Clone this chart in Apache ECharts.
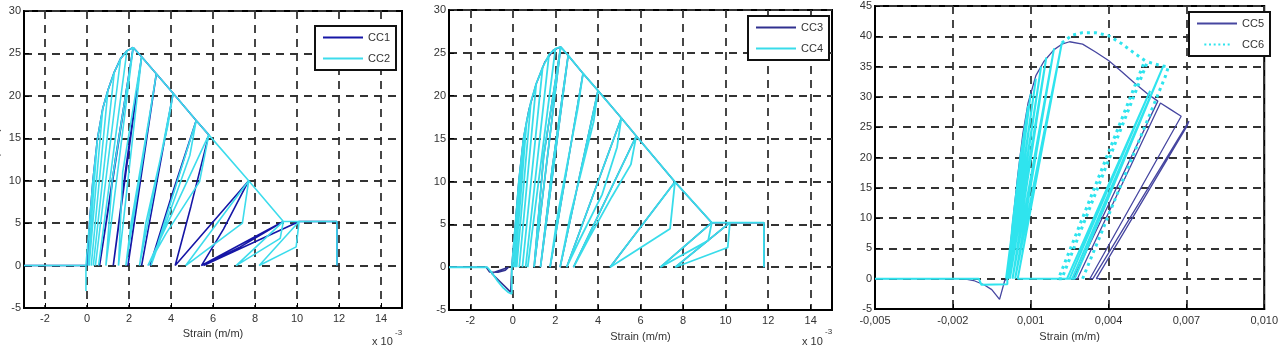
<!DOCTYPE html>
<html>
<head>
<meta charset="utf-8">
<script src="https://cdn.jsdelivr.net/npm/echarts@6.0.0/dist/echarts.min.js"></script>
<style>
  html, body { margin: 0; padding: 0; background: #fff; }
  #chart { width: 1281px; height: 347px; }
</style>
</head>
<body>
<div id="chart"></div>
<script>
// tick labels
const xTicksA = [-2, 0, 2, 4, 6, 8, 10, 12, 14];           // strain x 10^-3 (panels 1 and 2)
const xTicksB = [-0.005, -0.002, 0.001, 0.004, 0.007, 0.010]; // strain (panel 3)

// panel 1 (strain in 10^-3, stress in MPa)
const cc1 = [
  [-3, 0], [0, 0], [0.12, 5], [0.28, 10], [0.5, 15], [0.75, 18.5], [1.0, 20.7], [1.3, 22.8], [1.6, 24.4], [1.9, 25.3], [2.2, 25.7],
  [1.35, 12.5], [0.6, 0], [2.2, 25.7], [2.6, 24.6],
  [1.85, 11.5], [1.25, 0], [2.6, 24.6], [3.3, 22.6],
  [2.55, 10.5], [1.95, 0], [3.3, 22.6], [4.1, 20.3],
  [3.3, 9.5], [2.6, 0], [4.1, 20.3], [5.2, 17.1],
  [4.0, 8.0], [3.0, 0], [5.2, 17.1], [5.8, 15.4],
  [4.95, 7.0], [4.2, 0], [7.7, 10],
  [6.5, 4.3], [5.45, 0], [9.35, 5.2],
  [7.3, 2.2], [5.55, 0], [10.1, 5.2], [11.9, 5.2], [11.9, 0]
];
const cc2 = [
  [-3, 0], [-0.05, 0], [-0.05, -3], [-0.05, 0], [0, 0], [0.12, 5], [0.28, 10], [0.5, 15],
  [0.05, 0], [0.5, 15], [0.75, 18.5], [0.1, 0], [0.75, 18.5], [1.0, 20.7], [0.2, 0], [1.0, 20.7], [1.3, 22.8],
  [0.3, 0], [1.3, 22.8], [1.6, 24.4], [0.4, 0], [1.6, 24.4], [1.9, 25.3], [0.55, 0], [1.9, 25.3], [2.2, 25.7],
  [1.2, 10], [0.9, 0], [2.2, 25.7], [2.6, 24.6],
  [1.7, 11], [1.5, 0], [2.6, 24.6], [3.3, 22.6],
  [3.0, 18], [2.1, 5], [1.85, 0], [3.3, 22.6], [4.1, 20.3],
  [3.85, 16.5], [2.8, 5], [2.5, 0], [4.1, 20.3], [5.2, 17.1],
  [4.9, 13], [3.9, 6], [3.05, 0], [5.2, 17.1], [5.8, 15.4],
  [5.36, 9.9], [3.77, 3.8], [2.9, 0], [5.8, 15.4], [7.7, 10],
  [7.4, 5.0], [4.7, 0], [7.7, 10], [9.35, 5.2],
  [9.2, 3.2], [7.1, 0], [9.35, 5.2], [10.1, 5.2],
  [9.96, 2.2], [8.2, 0], [10.1, 5.2], [11.9, 5.2], [11.9, 0]
];

// panel 2
const cc3 = [
  [-3, 0], [-1.25, 0], [-1.1, -0.55], [-0.7, -0.6], [-0.35, -0.35], [-0.2, 0], [-1.0, -0.7], [-0.1, -2.9], [-0.05, -3.0], [-0.05, 0], [0, 0],
  [0.12, 5], [0.28, 10], [0.5, 15], [0.75, 18.3], [1.1, 21.4], [1.5, 23.9], [1.9, 25.3], [2.25, 25.7],
  [1.45, 13], [1.0, 0], [2.25, 25.7], [2.6, 24.7], [1.85, 11.5], [1.3, 0], [2.6, 24.7], [3.3, 22.6],
  [1.75, 0], [3.3, 22.6], [4.0, 20.6], [2.22, 0], [4.0, 20.6], [5.1, 17.4], [2.53, 0], [5.1, 17.4], [5.8, 15.3],
  [2.85, 0], [5.8, 15.3], [7.62, 9.95], [4.57, 0], [7.62, 9.95], [9.35, 5.2], [6.93, 0], [9.35, 5.2], [10.2, 5.2],
  [7.63, 0], [10.2, 5.2], [11.8, 5.2], [11.8, 0]
];
const cc4 = [
  [-3, 0], [-1.2, 0], [-1.0, -0.6], [-0.75, -1.5], [-0.45, -2.4], [-0.2, -2.95], [-0.05, -3.1], [-0.05, 0], [0, 0],
  [0.12, 5], [0.28, 10], [0.5, 15], [0.04, 0], [0.5, 15], [0.65, 17], [0.1, 0], [0.65, 17], [0.85, 19.3],
  [0.18, 0], [0.85, 19.3], [1.1, 21.4], [0.3, 0], [1.1, 21.4], [1.4, 23.3], [0.45, 0], [1.4, 23.3], [1.7, 24.8],
  [0.6, 0], [1.7, 24.8], [2.0, 25.5], [0.7, 0], [2.0, 25.5], [2.25, 25.7],
  [1.45, 13], [1.0, 0], [2.25, 25.7], [2.6, 24.7],
  [1.85, 11.5], [1.3, 0], [2.6, 24.7], [3.3, 22.6],
  [3.05, 18.5], [2.1, 6], [1.75, 0], [3.3, 22.6], [4.0, 20.6],
  [3.8, 17], [2.7, 6], [2.22, 0], [4.0, 20.6], [5.1, 17.4],
  [4.9, 14], [4.2, 8.5], [3.1, 3], [2.53, 0], [5.1, 17.4], [5.8, 15.3],
  [5.55, 12], [4.65, 8.2], [3.6, 3.5], [2.85, 0], [5.8, 15.3], [7.62, 9.95],
  [7.39, 4.5], [4.57, 0], [7.62, 9.95], [9.35, 5.2],
  [9.18, 3.1], [6.93, 0], [9.35, 5.2], [10.2, 5.2],
  [10.1, 2.3], [7.63, 0], [10.2, 5.2], [11.8, 5.2], [11.8, 0]
];

// panel 3 (strain in m/m)
const cc5 = [
  [-0.005, 0], [-0.0016, 0], [-0.0012, -0.3], [-0.0008, -1.0], [-0.0005, -1.8], [-0.0002, -3.4], [0.0, -0.3], [0.0001, 0],
  [0.0003, 9], [0.0005, 17], [0.0007, 24], [0.0009, 29], [0.0012, 33.5], [0.0015, 35.8], [0.0019, 37.8], [0.0022, 38.7],
  [0.0025, 39.1], [0.0030, 38.7], [0.0035, 37.4], [0.0040, 36.0], [0.0045, 34.2], [0.0050, 32.3], [0.0055, 30.5], [0.0059, 29.3],
  [0.00264, 0], [0.0028, 0], [0.0060, 29.0], [0.0064, 27.9], [0.0068, 26.8],
  [0.00328, 0], [0.0034, 0], [0.0071, 26.0], [0.0070, 25.0], [0.00353, 0], [0.0037, 0]
];
const cc6Cycles = [
  [-0.005, 0], [-0.0010, 0], [-0.0009, -1.0], [0.0001, -0.9], [0.0001, 0],
  [0.0003, 9], [0.0006, 20], [0.0009, 28.5],
  [0.00005, 0], [0.0010, 30.5], [0.0001, 0], [0.0012, 33], [0.00015, 0], [0.0014, 35],
  [0.0002, 0], [0.0016, 36.5], [0.0003, 0], [0.0019, 38], [0.0004, 0], [0.0022, 38.9],
  [0.0005, 0], [0.0027, 0], [0.0061, 35.0], [0.0026, 0], [0.0025, 0], [0.0056, 31], [0.0024, 0]
];
const cc6 = [
  [0.0022, 38.9], [0.0026, 40.2], [0.0030, 40.6], [0.0035, 40.6], [0.0040, 40.1], [0.0045, 38.8], [0.0050, 37.2], [0.0054, 36.0],
  [0.00207, 0], [0.0022, 0], [0.0055, 35.8], [0.0059, 35.3], [0.0063, 34.9], [0.0062, 33.5], [0.0030, 0]
];

const chart = echarts.init(document.getElementById('chart'));

const FONT = 'Liberation Sans';
const gridLine = { show: true, lineStyle: { color: '#333', type: [8, 6], width: 1.8 } };
const tick = { show: true, inside: true, length: 5, lineStyle: { color: '#000', width: 1 } };
const label = { color: '#333', fontSize: 11, fontFamily: FONT };
const border = { show: true, onZero: false, lineStyle: { color: '#000', width: 2 } };

const xAxis = (gridIndex, min, max, ticks, extra) => Object.assign({
  gridIndex, type: 'value', min, max,
  axisLine: border,
  axisTick: Object.assign({ customValues: ticks }, tick),
  axisLabel: Object.assign({ customValues: ticks, margin: 5 }, label),
  splitLine: gridLine,
  name: 'Strain (m/m)', nameLocation: 'middle',
  nameTextStyle: { color: '#333', fontSize: 11, fontFamily: FONT }
}, extra);

const yAxis = (gridIndex, min, max) => ({
  gridIndex, type: 'value', min, max, interval: 5,
  axisLine: border,
  axisTick: tick,
  axisLabel: Object.assign({ margin: 3 }, label),
  splitLine: gridLine
});

const line = (name, data, idx, color, width, type, z) => ({
  name, type: 'line', data, xAxisIndex: idx, yAxisIndex: idx,
  symbol: 'none', showSymbol: false, clip: true, z: z || 2,
  lineStyle: { color, width, type: type || 'solid' },
  itemStyle: { color }
});

const solidIcon = 'rect';
const dotIcon = 'path://M0,0h3v3h-3zM7,0h3v3h-3zM14,0h3v3h-3zM21,0h3v3h-3zM28,0h3v3h-3zM35,0h3v3h-3z';

const legend = (left, top, data) => ({
  left, top, data, orient: 'vertical',
  itemWidth: 40, itemHeight: 2, itemGap: 10,
  padding: [6, 6, 6, 8],
  backgroundColor: '#fff', borderColor: '#111', borderWidth: 2, borderRadius: 0,
  textStyle: { color: '#333', fontSize: 11, fontFamily: FONT }
});

chart.setOption({
  animation: false,
  backgroundColor: '#fff',
  grid: [
    { left: 24, top: 11, width: 378, height: 297, show: true, borderColor: '#000', borderWidth: 2 },
    { left: 449, top: 10, width: 383, height: 301, show: true, borderColor: '#000', borderWidth: 2 },
    { left: 875, top: 6, width: 393, height: 306, show: true, borderColor: '#000', borderWidth: 2 }
  ],
  xAxis: [
    xAxis(0, -3, 15, xTicksA, { nameGap: 19 }),
    xAxis(1, -3, 15, xTicksA, { nameGap: 20 }),
    xAxis(2, -0.005, 0.010, xTicksB, {
      nameGap: 22,
      axisLabel: Object.assign({ customValues: xTicksB, margin: 6,
        formatter: v => v.toFixed(3).replace('.', ',') }, label)
    })
  ],
  yAxis: [yAxis(0, -5, 30), yAxis(1, -5, 30), yAxis(2, -5, 45)],
  legend: [
    legend(315, 26, [{ name: 'CC1', icon: solidIcon }, { name: 'CC2', icon: solidIcon }]),
    legend(748, 16, [{ name: 'CC3', icon: solidIcon }, { name: 'CC4', icon: solidIcon }]),
    legend(1189, 12, [{ name: 'CC5', icon: solidIcon }, { name: 'CC6', icon: dotIcon }])
  ],
  graphic: [
    // y-axis title of the first panel, mostly cut off by the left edge
    { type: 'text', x: -4, y: 160, rotation: Math.PI / 2,
      style: { text: 'Stress (MPa)', fill: '#333', font: '11px "Liberation Sans"', align: 'center', verticalAlign: 'middle' } },
    { type: 'text', left: 372, top: 336, style: { text: 'x 10', fill: '#333', font: '11px "Liberation Sans"' } },
    { type: 'text', left: 395, top: 329, style: { text: '-3', fill: '#333', font: '8px "Liberation Sans"' } },
    { type: 'text', left: 802, top: 336, style: { text: 'x 10', fill: '#333', font: '11px "Liberation Sans"' } },
    { type: 'text', left: 825, top: 328, style: { text: '-3', fill: '#333', font: '8px "Liberation Sans"' } }
  ],
  series: [
    line('CC1', cc1, 0, '#1616a6', 1.6),
    line('CC2', cc2, 0, '#3ddcec', 1.6, 'solid', 3),
    line('CC3', cc3, 1, '#30308f', 1.5),
    line('CC4', cc4, 1, '#38dcea', 1.8, 'solid', 3),
    line('CC5', cc5, 2, '#4646a0', 1.3),
    line('CC6 ciclos', cc6Cycles, 2, '#2fe4ee', 2, 'solid', 3),
    line('CC6', cc6, 2, '#2fe4ee', 3, [3, 4], 3)
  ]
});
</script>
</body>
</html>
